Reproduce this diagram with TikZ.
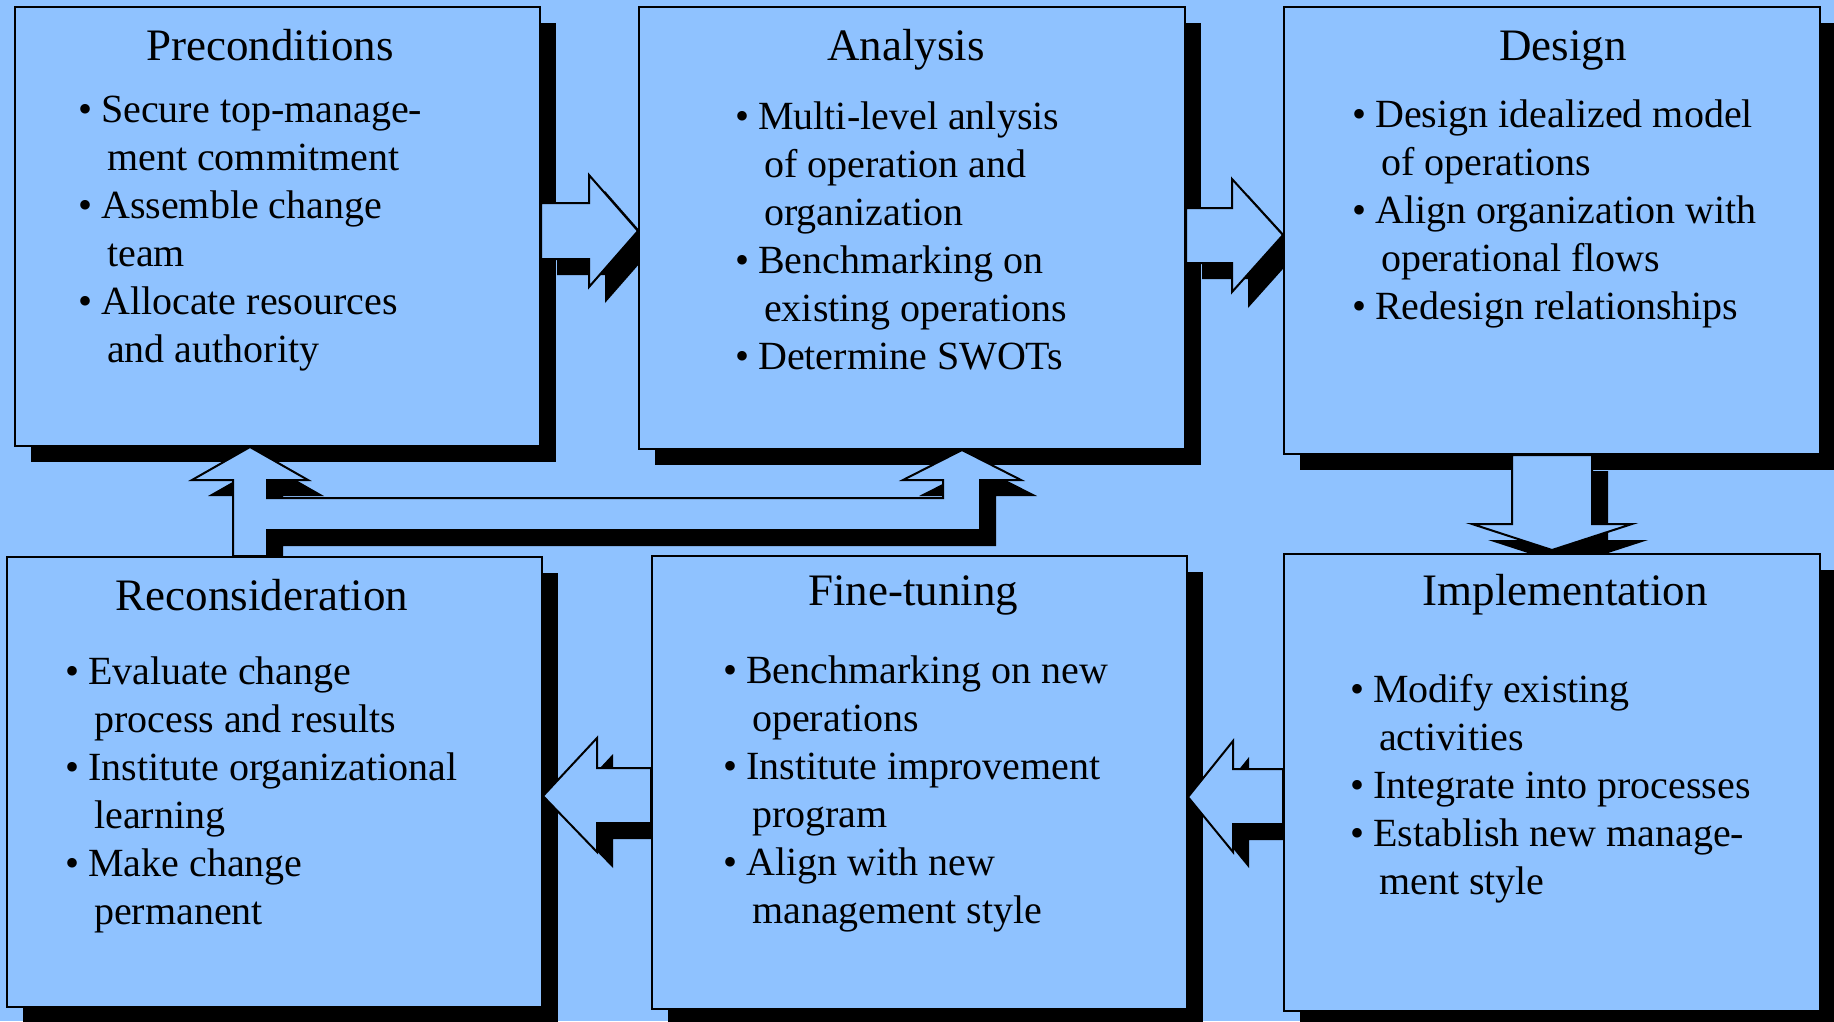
\documentclass[tikz,border=0pt]{standalone}
\usepackage{fontspec}
\setmainfont{Liberation Serif}
\usetikzlibrary{shadows}
\definecolor{bgblue}{HTML}{8FC2FF}
\pgfdeclarelayer{lbg}
\pgfdeclarelayer{lpre}
\pgfdeclarelayer{laa}
\pgfdeclarelayer{lana}
\pgfdeclarelayer{lab}
\pgfdeclarelayer{ldes}
\pgfdeclarelayer{lac}
\pgfdeclarelayer{laf}
\pgfdeclarelayer{lrec}
\pgfdeclarelayer{lae}
\pgfdeclarelayer{lfin}
\pgfdeclarelayer{lad}
\pgfdeclarelayer{limp}
\pgfsetlayers{lbg,lpre,laa,lana,lab,ldes,lac,laf,lrec,lae,lfin,lad,limp,main}
\newcommand\bitem{\makebox[23pt][l]{\textbullet}}
\newcommand\citem{\hspace*{29pt}}
\newcommand\lineb[1]{\hbox{#1}}
\begin{document}
\begin{tikzpicture}[x=1pt,y=-1pt,
  shapefill/.style={fill=bgblue, draw=black, line width=2pt, line join=miter},
  shad/.style={general shadow={fill=black, draw=none, shadow xshift=16pt, shadow yshift=-16pt}},
  box/.style={shapefill, shad, rectangle, inner sep=0pt, anchor=north west},
  barrow/.style={shapefill, shad},
  title/.style={anchor=base, inner sep=0pt, font=\fontsize{45}{54}\selectfont},
  items/.style={anchor=base west, inner sep=0pt, font=\fontsize{40}{48}\selectfont}]
\useasboundingbox (0,0) rectangle (1834,1021);
\begin{pgfonlayer}{lbg}
\fill[bgblue] (0,0) rectangle (1834,1021);
\end{pgfonlayer}
% boxes
\begin{pgfonlayer}{lpre}
\node[box, minimum width=525pt, minimum height=439pt] (pre) at (14,6) {};
\end{pgfonlayer}
\begin{pgfonlayer}{lana}
\node[box, minimum width=546pt, minimum height=442pt] (ana) at (638,6) {};
\end{pgfonlayer}
\begin{pgfonlayer}{ldes}
\node[box, minimum width=536pt, minimum height=447pt] (des) at (1283,6) {};
\end{pgfonlayer}
\begin{pgfonlayer}{lrec}
\node[box, minimum width=535pt, minimum height=450pt] (rec) at (6,556) {};
\end{pgfonlayer}
\begin{pgfonlayer}{lfin}
\node[box, minimum width=535pt, minimum height=453pt] (fin) at (651,555) {};
\end{pgfonlayer}
\begin{pgfonlayer}{limp}
\node[box, minimum width=536pt, minimum height=457pt] (imp) at (1283,553) {};
\end{pgfonlayer}
% arrows
\begin{pgfonlayer}{laa}
\draw[barrow] (pre.east |- 0,203) -- (589,203) -- (589,175) -- (ana.west |- 0,231)
  -- (589,287) -- (589,259) -- (pre.east |- 0,259) -- cycle;
\end{pgfonlayer}
\begin{pgfonlayer}{lab}
\draw[barrow] (ana.east |- 0,208) -- (1232,208) -- (1232,179) -- (des.west |- 0,235)
  -- (1232,292) -- (1232,263) -- (ana.east |- 0,263) -- cycle;
\end{pgfonlayer}
\begin{pgfonlayer}{lac}
\draw[barrow] (1512,0 |- des.south) -- (1512,524) -- (1472,524) -- (1552,550)
  -- (1632,524) -- (1592,524) -- (1592,0 |- des.south) -- cycle;
\end{pgfonlayer}
\begin{pgfonlayer}{lad}
\draw[barrow] (imp.west |- 0,769) -- (1233,769) -- (1233,741) -- (fin.east |- 0,797)
  -- (1233,852) -- (1233,824) -- (imp.west |- 0,824) -- cycle;
\end{pgfonlayer}
\begin{pgfonlayer}{lae}
\draw[barrow] (fin.west |- 0,768) -- (597,768) -- (597,738) -- (rec.east |- 0,796)
  -- (597,852) -- (597,823) -- (fin.west |- 0,823) -- cycle;
\end{pgfonlayer}
\begin{pgfonlayer}{laf}
\draw[barrow] (233,0 |- rec.north) -- (233,480) -- (192,480) -- (250,0 |- pre.south)
  -- (308,480) -- (267,480) -- (267,498) -- (943,498) -- (943,480) -- (903,480)
  -- (962,0 |- ana.south) -- (1021,480) -- (980,480) -- (980,530) -- (267,530)
  -- (267,0 |- rec.north) -- cycle;
\end{pgfonlayer}
% titles
\node[title] (tpre) at (270,60) {Preconditions};
\node[title] (tana) at (906,60) {Analysis};
\node[title] (tdes) at (1563,60) {Design};
\node[title] (trec) at (262,610) {Reconsideration};
\node[title] (tfin) at (913,605) {Fine-tuning};
\node[title] (timp) at (1565,605) {Implementation};
% item lists
\node[items] (ipre) at (78,122) {\vtop{%
  \lineb{\bitem Secure top-manage-}
  \lineb{\citem ment commitment}
  \lineb{\bitem Assemble change}
  \lineb{\citem team}
  \lineb{\bitem Allocate resources}
  \lineb{\citem and authority}}};
\node[items] (iana) at (735,129) {\vtop{%
  \lineb{\bitem Multi-level anlysis}
  \lineb{\citem of operation and}
  \lineb{\citem organization}
  \lineb{\bitem Benchmarking on}
  \lineb{\citem existing operations}
  \lineb{\bitem Determine SWOTs}}};
\node[items] (ides) at (1352,127) {\vtop{%
  \lineb{\bitem Design idealized model}
  \lineb{\citem of operations}
  \lineb{\bitem Align organization with}
  \lineb{\citem operational flows}
  \lineb{\bitem Redesign relationships}}};
\node[items] (irec) at (65,684) {\vtop{%
  \lineb{\bitem Evaluate change}
  \lineb{\citem process and results}
  \lineb{\bitem Institute organizational}
  \lineb{\citem learning}
  \lineb{\bitem Make change}
  \lineb{\citem permanent}}};
\node[items] (ifin) at (723,683) {\vtop{%
  \lineb{\bitem Benchmarking on new}
  \lineb{\citem operations}
  \lineb{\bitem Institute improvement}
  \lineb{\citem program}
  \lineb{\bitem Align with new}
  \lineb{\citem management style}}};
\node[items] (iimp) at (1350,702) {\vtop{%
  \lineb{\bitem Modify existing}
  \lineb{\citem activities}
  \lineb{\bitem Integrate into processes}
  \lineb{\bitem Establish new manage-}
  \lineb{\citem ment style}}};
\end{tikzpicture}
\end{document}
